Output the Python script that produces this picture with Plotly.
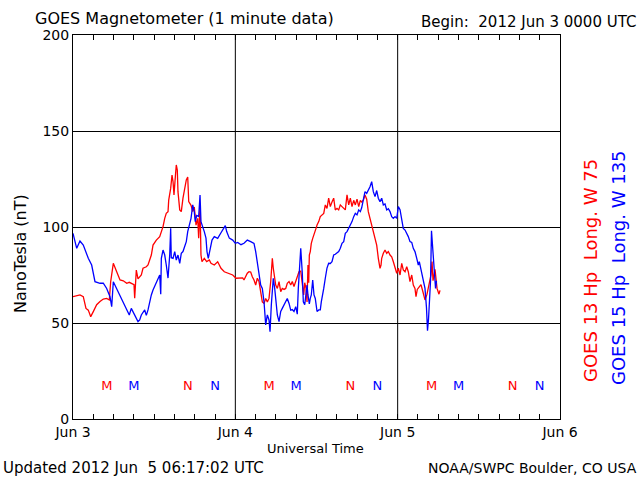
import pandas as pd
import plotly.graph_objects as go

# ---- data (hours since 2012-06-03 00:00 UT, nT) ----
red_hours = [0.0, 1.03, 1.52, 1.92, 2.26, 2.62, 3.00, 3.50, 3.99, 4.48, 4.98, 5.37, 5.57, 5.96, 6.46, 6.95,
             7.44, 7.94, 8.32, 8.62, 9.02, 9.12, 9.36, 9.61, 10.10, 10.35, 10.84, 11.09, 11.34, 11.58, 11.83,
             12.32, 12.82, 13.06, 13.31, 13.56, 13.79, 14.05, 14.15, 14.44, 14.64, 14.79, 14.93, 15.13, 15.27,
             15.42, 15.52, 15.78, 16.01, 16.26, 16.51, 16.75, 16.96, 17.11, 17.45, 17.70, 17.93, 18.19, 18.44,
             18.58, 18.78, 18.92, 19.07, 19.41, 19.77, 20.15, 20.40, 20.89, 21.39, 21.63, 21.88, 22.37, 22.87,
             23.11, 23.61, 24.10, 24.59, 25.09, 25.28, 25.53, 25.77, 26.02, 26.27, 26.51, 26.76, 27.01, 27.25,
             27.50, 27.75, 27.99, 28.24, 28.49, 28.73, 28.98, 29.23, 29.47, 29.61, 29.82, 29.97, 30.21, 30.46,
             30.71, 30.94, 31.20, 31.45, 31.68, 31.94, 32.19, 32.42, 32.67, 32.93, 33.16, 33.41, 33.67, 33.90,
             34.11, 34.26, 34.45, 34.60, 34.74, 34.85, 34.94, 35.08, 35.23, 35.44, 35.74, 35.93, 36.08, 36.33,
             36.56, 36.81, 37.07, 37.30, 37.55, 37.80, 38.04, 38.29, 38.54, 38.78, 39.03, 39.28, 39.52, 39.77,
             40.02, 40.26, 40.51, 40.76, 41.00, 41.25, 41.50, 41.74, 41.99, 42.24, 42.48, 42.68, 42.92, 43.17,
             43.42, 43.66, 43.91, 44.16, 44.40, 44.65, 44.90, 45.14, 45.39, 45.54, 45.64, 45.88, 46.13, 46.38,
             46.62, 46.87, 47.12, 47.36, 47.61, 47.86, 48.10, 48.35, 48.60, 48.83, 49.09, 49.34, 49.57, 49.82,
             50.08, 50.31, 50.56, 50.71, 50.90, 51.20, 51.45, 51.75, 52.04, 52.34, 52.63, 52.93, 53.08, 53.23,
             53.52, 53.82, 54.11, 54.26]
red_nt = [63.7, 64.6, 63.7, 57.6, 56.7, 53.3, 55.9, 59.5, 61.2, 62.5, 62.8, 62.0, 71.5, 81.1, 76.7, 72.4,
          72.0, 70.7, 71.2, 70.7, 70.0, 62.9, 77.6, 73.0, 75.0, 78.5, 79.3, 80.2, 82.8, 85.4, 90.6,
          93.2, 95.0, 97.2, 100.2, 104.5, 107.1, 108.0, 114.0, 120.1, 127.0, 123.6, 116.7, 126.2, 132.3,
          129.7, 118.4, 108.9, 108.0, 115.0, 119.3, 124.5, 126.0, 113.2, 111.3, 108.0, 110.4, 101.0, 104.5,
          94.1, 111.5, 85.4, 81.9, 83.7, 82.0, 82.8, 81.1, 80.2, 81.9, 80.2, 78.5, 76.7, 75.9,
          75.9, 75.0, 73.3, 73.3, 73.5, 72.4, 74.1, 75.9, 76.7, 76.5, 74.1, 72.4, 69.8, 73.3,
          71.6, 64.6, 61.0, 60.2, 62.8, 61.0, 62.8, 71.6, 83.7, 78.5, 73.3, 69.8, 68.0, 71.5,
          66.3, 68.0, 67.5, 68.0, 70.7, 71.6, 69.8, 71.6, 69.0, 71.6, 73.3, 76.7, 77.0, 70.7,
          64.6, 71.0, 68.0, 61.0, 80.2, 71.0, 85.4, 87.2, 91.5, 94.1, 96.7, 99.3, 101.0, 102.8,
          105.4, 106.3, 107.1, 111.5, 109.7, 115.0, 110.6, 113.0, 115.0, 108.9, 109.7, 108.9, 111.5, 110.6,
          109.7, 108.9, 116.7, 111.5, 115.0, 110.6, 113.9, 111.5, 114.5, 110.6, 113.9, 113.0, 114.0, 116.7,
          114.5, 108.0, 104.5, 101.0, 97.6, 95.0, 90.6, 83.7, 78.5, 80.2, 83.7, 86.3, 88.0, 86.3,
          87.2, 85.4, 84.5, 81.9, 78.5, 75.9, 78.5, 75.0, 81.1, 77.6, 76.7, 79.3, 76.7, 71.6,
          75.0, 69.8, 68.0, 63.7, 67.5, 68.9, 70.0, 66.0, 62.0, 65.0, 70.0, 75.0, 82.0, 72.0,
          78.0, 68.0, 65.0, 67.0]

blue_hours = [0.0, 0.55, 1.03, 1.52, 2.26, 2.76, 3.25, 3.99, 4.48, 4.98, 5.47, 5.72, 5.96, 6.46, 6.95, 7.44,
              7.94, 8.32, 8.62, 9.02, 9.36, 9.61, 9.86, 10.10, 10.60, 10.84, 11.09, 11.34, 11.58, 11.83, 12.32,
              12.57, 12.82, 12.97, 13.06, 13.31, 13.56, 13.79, 14.05, 14.30, 14.44, 14.53, 14.79, 15.04, 15.27,
              15.52, 15.78, 16.01, 16.26, 16.51, 16.75, 16.96, 17.19, 17.45, 17.70, 17.93, 18.08, 18.29, 18.58,
              18.78, 18.92, 19.18, 19.41, 19.66, 19.81, 20.00, 20.26, 20.55, 20.89, 21.39, 21.88, 22.22, 22.52,
              22.72, 23.11, 23.61, 24.00, 24.35, 24.84, 25.28, 25.77, 26.27, 26.76, 27.01, 27.25, 27.50, 27.75,
              27.99, 28.24, 28.49, 28.73, 28.98, 29.13, 29.32, 29.47, 29.61, 29.82, 29.97, 30.21, 30.46, 30.71,
              30.94, 31.20, 31.45, 31.68, 31.94, 32.19, 32.42, 32.67, 32.93, 33.16, 33.31, 33.52, 33.67, 33.90,
              34.05, 34.26, 34.45, 34.60, 34.74, 34.94, 35.08, 35.23, 35.44, 35.63, 35.82, 35.93, 36.08, 36.33,
              36.56, 36.71, 36.92, 37.07, 37.30, 37.55, 37.80, 38.04, 38.29, 38.54, 38.78, 39.03, 39.28, 39.52,
              39.77, 40.02, 40.26, 40.51, 40.76, 41.00, 41.25, 41.50, 41.74, 41.99, 42.24, 42.48, 42.68, 43.17,
              43.42, 43.91, 44.16, 44.40, 44.65, 44.90, 45.14, 45.39, 45.64, 45.88, 46.13, 46.38, 46.62, 46.87,
              47.12, 47.36, 47.61, 47.86, 48.10, 48.35, 48.60, 48.83, 49.09, 49.34, 49.57, 49.82, 50.08, 50.31,
              50.56, 50.82, 51.05, 51.20, 51.45, 51.75, 52.04, 52.26, 52.41, 52.56, 52.71, 52.86, 53.00, 53.15,
              53.30, 53.45, 53.60, 53.74]
blue_nt = [96.7, 88.9, 92.7, 90.6, 83.7, 80.2, 71.5, 70.7, 70.7, 68.0, 63.7, 58.5, 71.5, 68.0, 64.6, 61.0,
           57.6, 54.2, 57.6, 55.0, 52.4, 50.7, 51.6, 54.2, 56.8, 54.0, 56.8, 61.1, 64.6, 67.2, 70.7,
           73.3, 75.0, 65.0, 83.7, 88.0, 85.4, 80.2, 73.4, 85.4, 99.3, 84.0, 83.7, 87.2, 82.8,
           85.4, 81.1, 86.3, 87.2, 89.8, 92.4, 97.6, 101.0, 104.5, 111.5, 108.0, 102.8, 106.0, 105.5,
           116.7, 102.8, 100.2, 97.6, 94.2, 87.2, 83.7, 88.9, 93.2, 95.0, 94.1, 97.0, 99.3, 100.7,
           97.6, 94.2, 93.2, 91.5, 92.0, 90.8, 91.5, 93.2, 92.4, 91.5, 87.2, 81.9, 76.7, 69.8,
           68.0, 61.1, 49.0, 54.2, 51.6, 45.5, 59.4, 68.0, 73.3, 68.0, 61.0, 54.2, 50.7, 56.0,
           57.6, 59.4, 61.0, 62.8, 60.2, 56.7, 57.0, 56.0, 58.5, 54.6, 68.0, 80.2, 88.9, 75.9,
           61.0, 59.5, 68.0, 69.8, 64.6, 60.0, 62.8, 64.6, 72.4, 64.6, 62.8, 59.4, 56.0, 56.8,
           56.8, 61.0, 64.6, 68.0, 73.3, 78.6, 81.1, 81.0, 81.9, 85.4, 85.8, 86.3, 87.2, 88.9,
           91.5, 92.4, 96.7, 97.6, 99.3, 101.0, 102.8, 105.4, 107.1, 106.3, 108.9, 108.0, 110.0, 118.4,
           117.5, 121.0, 123.6, 118.4, 115.8, 119.0, 115.0, 113.2, 115.0, 111.5, 112.0, 108.9, 109.5, 108.0,
           105.4, 104.5, 105.4, 104.5, 110.6, 109.0, 104.5, 99.3, 98.4, 96.7, 95.0, 92.4, 92.0, 88.9,
           87.2, 83.7, 80.2, 82.0, 78.0, 72.0, 68.0, 58.0, 46.0, 52.0, 60.0, 72.0, 98.0, 90.0,
           80.0, 72.0, 68.0, 72.0]

# local midnight (M) / noon (N) markers, hours UT
red_m_hours = [5, 29, 53]
red_n_hours = [17, 41, 65]
blue_m_hours = [9, 33, 57]
blue_n_hours = [21, 45, 69]
marker_level = 17

day_ticks = ["2012-06-03", "2012-06-04", "2012-06-05", "2012-06-06"]
day_labels = ["Jun 3", "Jun 4", "Jun 5", "Jun 6"]
y_ticks = [0, 50, 100, 150, 200]

t0 = pd.Timestamp("2012-06-03")
def to_time(h):
    return t0 + pd.to_timedelta(h, unit="h")

# x ticks every 3 h, labelled only at midnight
tick_times = [t.strftime("%Y-%m-%d %H:%M") for t in pd.date_range(day_ticks[0], day_ticks[-1], freq="3h")]
label_map = {pd.Timestamp(d).strftime("%Y-%m-%d %H:%M"): lab for d, lab in zip(day_ticks, day_labels)}
tick_text = [label_map.get(t, "") for t in tick_times]

RED = "#ff0000"
BLUE = "#0000ff"
FONT = "DejaVu Sans"

fig = go.Figure()
fig.add_trace(go.Scatter(x=to_time(red_hours), y=red_nt, mode="lines",
                         line=dict(color=RED, width=1.3), hoverinfo="skip"))
fig.add_trace(go.Scatter(x=to_time(blue_hours), y=blue_nt, mode="lines",
                         line=dict(color=BLUE, width=1.3), hoverinfo="skip"))

for hrs, txt, col in [(red_m_hours, "M", RED), (red_n_hours, "N", RED),
                      (blue_m_hours, "M", BLUE), (blue_n_hours, "N", BLUE)]:
    fig.add_trace(go.Scatter(x=to_time(hrs), y=[marker_level] * len(hrs), mode="text",
                             text=[txt] * len(hrs), textposition="middle center",
                             textfont=dict(color=col, size=13, family=FONT), hoverinfo="skip"))

# vertical day grid lines
for d in day_ticks[1:-1]:
    fig.add_shape(type="line", xref="x", yref="paper", x0=d, x1=d, y0=0, y1=1,
                  line=dict(color="black", width=1), layer="below")

L, R, T, B = 73, 560, 35, 419
W, H = R - L, B - T
def px(x):
    return (x - L) / W
def py(y):
    return (B - y) / H

annos = [
    dict(text="GOES Magnetometer (1 minute data)", x=px(33), y=py(19), xanchor="left", yanchor="middle",
         font=dict(size=16, color="black")),
    dict(text="Begin:\u00a0 2012 Jun 3 0000 UTC", x=px(638), y=py(22), xanchor="right", yanchor="middle",
         font=dict(size=15, color="black")),
    dict(text="NanoTesla (nT)", x=px(20), y=py(254), xanchor="center", yanchor="middle", textangle=-90,
         font=dict(size=16, color="black")),
    dict(text="Universal Time", x=px(315), y=py(448), xanchor="center", yanchor="middle",
         font=dict(size=13, color="black")),
    dict(text="Updated 2012 Jun\u00a0 5 06:17:02 UTC", x=px(1), y=py(468), xanchor="left", yanchor="middle",
         font=dict(size=15, color="black")),
    dict(text="NOAA/SWPC Boulder, CO USA", x=px(639), y=py(468), xanchor="right", yanchor="middle",
         font=dict(size=14, color="black")),
    dict(text="GOES 13 Hp\u00a0 Long. W 75", x=px(590), y=py(271), xanchor="center", yanchor="middle",
         textangle=-90, font=dict(size=18, color=RED)),
    dict(text="GOES 15 Hp\u00a0 Long. W 135", x=px(618), y=py(268), xanchor="center", yanchor="middle",
         textangle=-90, font=dict(size=18, color=BLUE)),
]
for a in annos:
    a.update(xref="paper", yref="paper", showarrow=False)

fig.update_layout(
    width=640, height=480,
    margin=dict(l=L, r=640 - R, t=T, b=480 - B, pad=0),
    paper_bgcolor="white", plot_bgcolor="white",
    showlegend=False,
    font=dict(family=FONT, size=14, color="black"),
    annotations=annos,
    xaxis=dict(type="date", range=[day_ticks[0], day_ticks[-1]],
               tickmode="array", tickvals=tick_times, ticktext=tick_text,
               showgrid=False, zeroline=False,
               showline=True, linecolor="black", linewidth=1, mirror="ticks",
               ticks="inside", ticklen=5, tickwidth=1, tickcolor="black",
               tickfont=dict(size=14), fixedrange=True),
    yaxis=dict(range=[0, 200], tickvals=y_ticks, showgrid=True, gridcolor="black", gridwidth=1,
               zeroline=False, showline=True, linecolor="black", linewidth=1, mirror=True,
               ticks="", tickfont=dict(size=14), fixedrange=True),
)

fig.write_html("out.html", config={"displayModeBar": False},
               post_script="document.body.style.margin='0';document.body.style.overflow='hidden';")
